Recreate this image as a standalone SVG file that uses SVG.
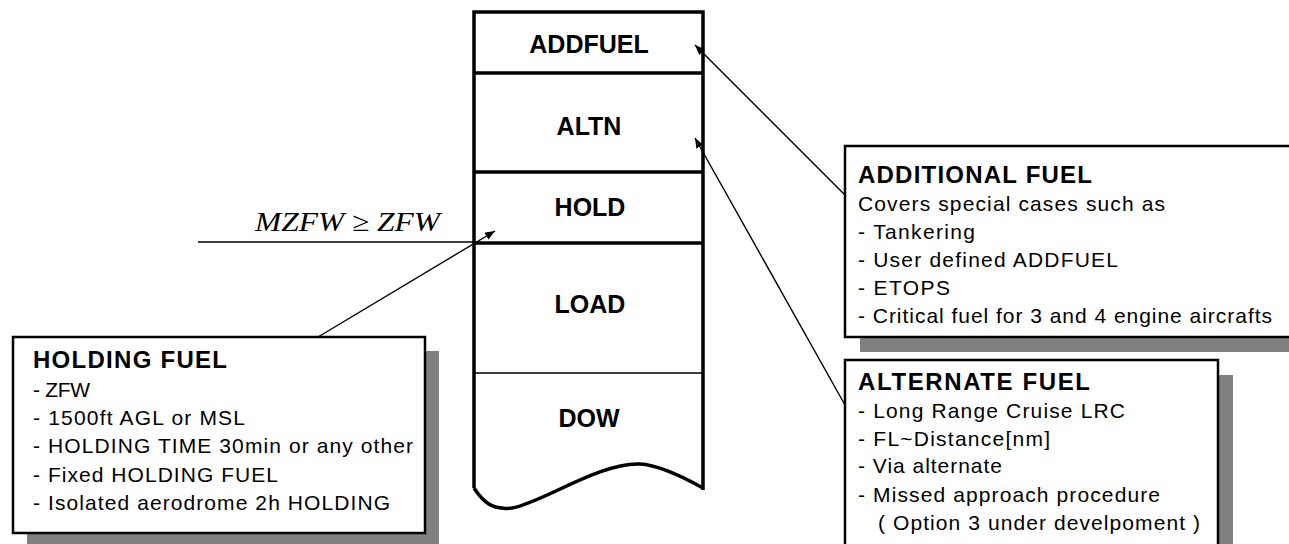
<svg xmlns="http://www.w3.org/2000/svg" width="1289" height="544" viewBox="0 0 1289 544">
<style>
.col{fill:none;stroke:#000;stroke-width:3.5}
.thin{fill:none;stroke:#000;stroke-width:1.3}
.lbl{font-family:"Liberation Sans",Arial,sans-serif;font-weight:bold;font-size:25px;fill:#000;text-anchor:middle}
.box{fill:#fff;stroke:#000;stroke-width:2.5}
.shadow{fill:#808080}
.ttl{font-family:"Liberation Sans",Arial,sans-serif;font-weight:bold;font-size:24px;fill:#000}
.txt{font-family:"Liberation Sans",Arial,sans-serif;font-size:21px;fill:#000}
.conn{fill:none;stroke:#000;stroke-width:1.4}
</style>
<defs>
<marker id="ah" viewBox="0 0 10 8" refX="10" refY="4" markerWidth="10" markerHeight="8" markerUnits="userSpaceOnUse" orient="auto">
<path d="M0,0 L10,4 L0,8 Z" fill="#000"/>
</marker>
</defs>
<rect width="1289" height="544" fill="#fff"/>

<g id="column">
<path class="col" d="M474,488 L474,12 L703,12 L703,490"/>
<path class="col" d="M474,488 C485,505 495,510 512,508 C540,504 600,462 640,464 C660,465 685,478 703,488"/>
<line class="col" x1="474" y1="73" x2="703" y2="73"/>
<line class="col" x1="474" y1="172" x2="703" y2="172"/>
<line class="col" x1="474" y1="243" x2="703" y2="243"/>
<line class="thin" x1="474" y1="373" x2="703" y2="373"/>
</g>
<g id="seg-addfuel"><text class="lbl" x="589" y="53">ADDFUEL</text></g>
<g id="seg-altn"><text class="lbl" x="589" y="135">ALTN</text></g>
<g id="seg-hold"><text class="lbl" x="590" y="216">HOLD</text></g>
<g id="seg-load"><text class="lbl" x="590" y="313">LOAD</text></g>
<g id="seg-dow"><text class="lbl" x="589" y="427">DOW</text></g>

<g id="mzfw">
<line class="conn" x1="198" y1="242" x2="474" y2="242"/>
<text x="255" y="231" font-family="'Liberation Serif','Times New Roman',serif" font-style="italic" font-size="27" textLength="185" lengthAdjust="spacingAndGlyphs">MZFW ≥ ZFW</text>
</g>

<g id="holding-fuel">
<rect class="shadow" x="27" y="351" width="412" height="196"/>
<rect class="box" x="13" y="337" width="412" height="196"/>
<text class="ttl" x="33" y="368" textLength="194" lengthAdjust="spacing">HOLDING FUEL</text>
<text class="txt" x="33" y="397" textLength="57" lengthAdjust="spacing">- ZFW</text>
<text class="txt" x="33" y="425" textLength="212" lengthAdjust="spacing">- 1500ft AGL or MSL</text>
<text class="txt" x="33" y="453" textLength="380" lengthAdjust="spacing">- HOLDING TIME 30min or any other</text>
<text class="txt" x="33" y="482" textLength="245" lengthAdjust="spacing">- Fixed HOLDING FUEL</text>
<text class="txt" x="33" y="510" textLength="357" lengthAdjust="spacing">- Isolated aerodrome 2h HOLDING</text>
</g>

<g id="additional-fuel">
<rect class="shadow" x="860" y="160" width="440" height="192"/>
<rect class="box" x="845" y="146" width="450" height="191"/>
<text class="ttl" x="858" y="183" textLength="234" lengthAdjust="spacing">ADDITIONAL FUEL</text>
<text class="txt" x="858" y="211" textLength="307" lengthAdjust="spacing">Covers special cases such as</text>
<text class="txt" x="858" y="239" textLength="117" lengthAdjust="spacing">- Tankering</text>
<text class="txt" x="858" y="267" textLength="260" lengthAdjust="spacing">- User defined ADDFUEL</text>
<text class="txt" x="858" y="295" textLength="92" lengthAdjust="spacing">- ETOPS</text>
<text class="txt" x="858" y="323" textLength="414" lengthAdjust="spacing">- Critical fuel for 3 and 4 engine aircrafts</text>
</g>

<g id="alternate-fuel">
<rect class="shadow" x="860" y="375" width="373" height="200"/>
<rect class="box" x="845" y="360" width="373" height="200"/>
<text class="ttl" x="858" y="390" textLength="232" lengthAdjust="spacing">ALTERNATE FUEL</text>
<text class="txt" x="858" y="418" textLength="267" lengthAdjust="spacing">- Long Range Cruise LRC</text>
<text class="txt" x="858" y="446" textLength="192" lengthAdjust="spacing">- FL~Distance[nm]</text>
<text class="txt" x="858" y="473" textLength="144" lengthAdjust="spacing">- Via alternate</text>
<text class="txt" x="858" y="502" textLength="302" lengthAdjust="spacing">- Missed approach procedure</text>
<text class="txt" x="878" y="530" textLength="322" lengthAdjust="spacing">( Option 3 under develpoment )</text>
</g>

<g id="connectors">
<line class="conn" x1="845" y1="195" x2="695" y2="45" marker-end="url(#ah)"/>
<line class="conn" x1="845" y1="405" x2="695" y2="138" marker-end="url(#ah)"/>
<line class="conn" x1="318" y1="337" x2="495" y2="231" marker-end="url(#ah)"/>
</g>
</svg>
